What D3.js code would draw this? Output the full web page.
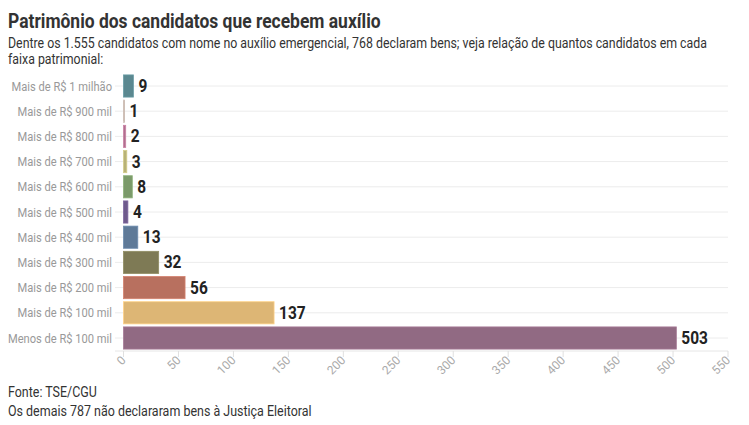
<!DOCTYPE html>
<html><head><meta charset="utf-8">
<script src="https://cdn.jsdelivr.net/npm/d3@7"></script>
<style>body{margin:0;background:#fff}svg{display:block}</style>
</head><body>
<svg id="c" width="749" height="425"></svg>
<script>
const categories = ["Mais de R$ 1 milhão","Mais de R$ 900 mil","Mais de R$ 800 mil","Mais de R$ 700 mil","Mais de R$ 600 mil","Mais de R$ 500 mil","Mais de R$ 400 mil","Mais de R$ 300 mil","Mais de R$ 200 mil","Mais de R$ 100 mil","Menos de R$ 100 mil"];
const values = [9,1,2,3,8,4,13,32,56,137,503];
const colors = ["#5b8890","#b3a49c","#b0708f","#b8b277","#7b9a6a","#6f5b8c","#5f7a98","#7e7a55","#b8705f","#ddb675","#916a83"];
const xTicks = [0,50,100,150,200,250,300,350,400,450,500,550];
const title = "Patrimônio dos candidatos que recebem auxílio";
const subtitle = ["Dentre os 1.555 candidatos com nome no auxílio emergencial, 768 declaram bens; veja relação de quantos candidatos em cada","faixa patrimonial:"];
const footer = ["Fonte: TSE/CGU","Os demais 787 não declararam bens à Justiça Eleitoral"];

const svg = d3.select("#c");
const F = "Roboto, 'Noto Sans', sans-serif";
function ctext(g, x, y, str, s){
  return g.append("text").attr("transform",`translate(${x},${y}) scale(${s||0.89},1)`).attr("font-family",F).text(str);
}

const x = d3.scaleLinear().domain([0,550]).range([123.5,728]);
const y = d3.scaleBand().domain(categories).range([73.4,350.6]).paddingInner(0.12).paddingOuter(0.06);

// title & subtitle
ctext(svg,8,28,title,0.895).attr("font-size",19.5).attr("font-weight","bold").attr("fill","#333");
subtitle.forEach((s,i)=>ctext(svg,8,48+i*15.5,s,0.883).attr("font-size",14).attr("fill","#333"));
footer.forEach((s,i)=>ctext(svg,8,397+i*18.5,s,0.89).attr("font-size",14).attr("fill","#333"));

// gridlines
const grid = svg.append("g");
categories.forEach(c=>{
  grid.append("line").attr("x1",115).attr("x2",728)
    .attr("y1",y(c)+y.bandwidth()/2).attr("y2",y(c)+y.bandwidth()/2)
    .attr("stroke","#ececec").attr("stroke-width",1);
});
grid.append("line").attr("x1",115).attr("x2",728).attr("y1",351).attr("y2",351).attr("stroke","#e6e6e6");

// bars
svg.append("g").selectAll("rect").data(values).join("rect")
  .attr("x",x(0)).attr("y",(d,i)=>y(categories[i]))
  .attr("width",d=>x(d)-x(0)).attr("height",y.bandwidth())
  .attr("fill",(d,i)=>colors[i])
  .attr("stroke",(d,i)=>d3.color(colors[i]).brighter(0.4)).attr("stroke-width",0.8);

// value labels
values.forEach((v,i)=>{
  ctext(svg, x(v)+5, y(categories[i])+y.bandwidth()/2+6, String(v), 0.86)
    .attr("font-size",18).attr("font-weight","bold").attr("fill","#222");
});

// category labels
categories.forEach(c=>{
  ctext(svg,112,y(c)+y.bandwidth()/2+4.5,c,0.89).attr("font-size",12.5).attr("fill","#999").attr("text-anchor","end");
});

// x ticks
const xt = svg.append("g");
xTicks.forEach(t=>{
  xt.append("line").attr("x1",x(t)).attr("x2",x(t)).attr("y1",351).attr("y2",357).attr("stroke","#e0e0e0");
  xt.append("text").attr("transform",`translate(${x(t)+3},${361}) rotate(-45)`)
    .attr("text-anchor","end").attr("font-family",F).attr("font-size",12).attr("fill","#aaa").text(t);
});
</script>
</body></html>
